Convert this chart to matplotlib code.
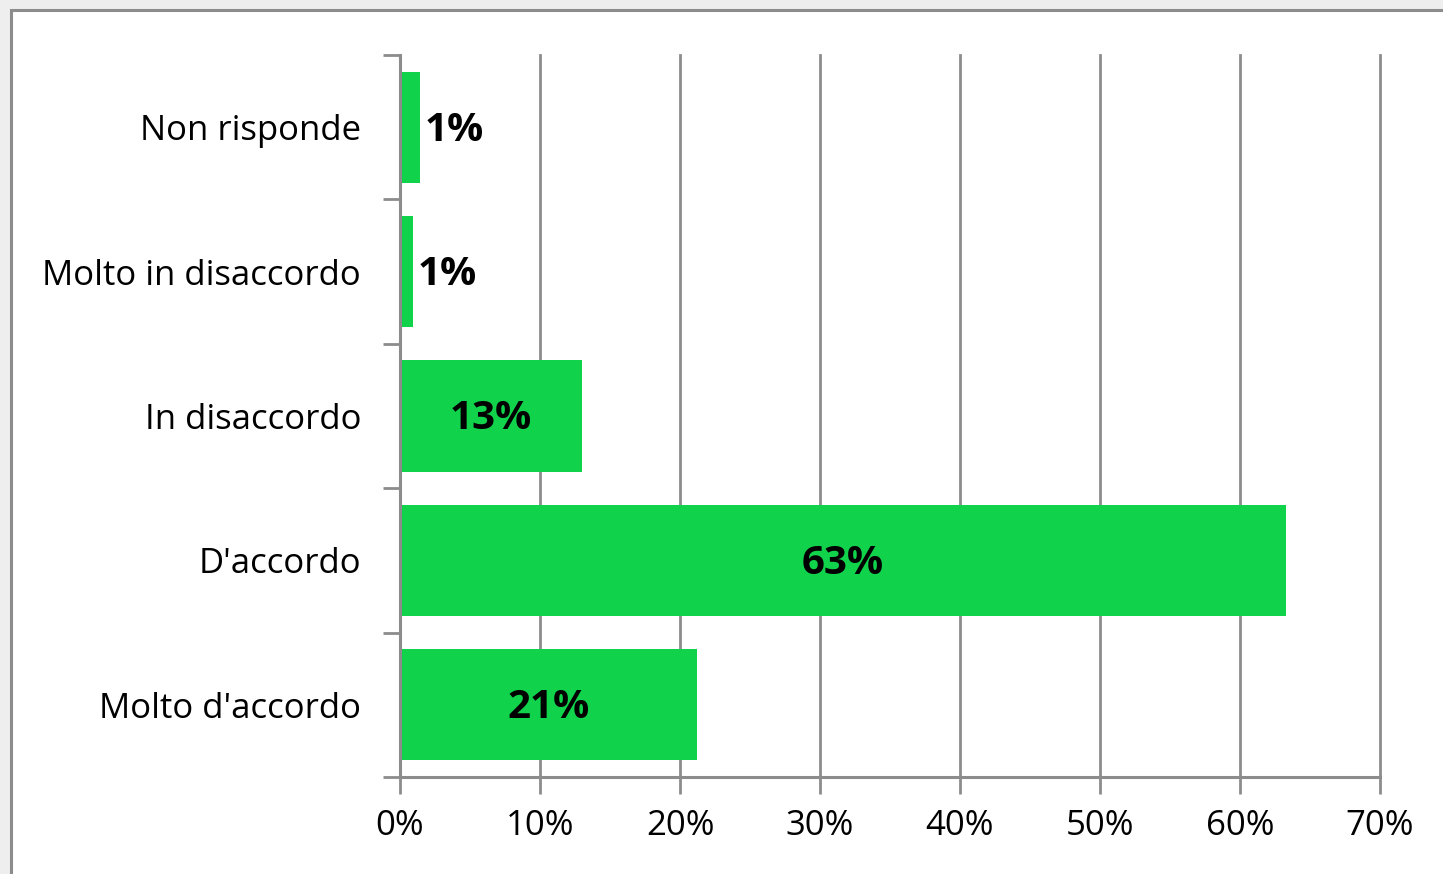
import numpy as np
import matplotlib.pyplot as plt
from matplotlib.patches import Rectangle
from matplotlib.ticker import FixedLocator, PercentFormatter

# Survey answers, bottom to top as drawn
categories = ["Molto d'accordo", "D'accordo", "In disaccordo",
              "Molto in disaccordo", "Non risponde"]
values = [21.2, 63.3, 13.0, 0.9, 1.4]
labels = ["21%", "63%", "13%", "1%", "1%"]
x_ticks = [0, 10, 20, 30, 40, 50, 60, 70]

W, H = 1443, 874
fig = plt.figure(figsize=(W / 100, H / 100), dpi=100)
fig.patch.set_facecolor("#eeeeee")

# white chart area with grey frame (Excel style), kept under the axes
frame = Rectangle((11, -20), W + 20, H - 10 + 20, transform=None,
                  facecolor="white", edgecolor="#8c8c8c", linewidth=2.2,
                  zorder=-5)
fig.patches.append(frame)

ax = fig.add_axes([400 / W, 1 - 777 / H, 980 / W, 722 / H])
ax.set_facecolor("none")

bar_color = "#10d24b"
grey = "#8c8c8c"
font = "Open Sans"

y = np.arange(len(categories))
ax.barh(y, values, height=0.77, color=bar_color, zorder=2)

ax.set_xlim(0, 70)
ax.set_ylim(-0.5, len(categories) - 0.5)
ax.set_xticks(x_ticks)
ax.xaxis.set_major_formatter(PercentFormatter(decimals=0))
ax.set_yticks(y)
ax.set_yticklabels(categories)
ax.yaxis.set_minor_locator(FixedLocator(np.arange(len(categories) + 1) - 0.5))

ax.tick_params(axis="y", which="major", length=0, pad=28)
ax.tick_params(axis="y", which="minor", length=12, width=2, color=grey)
ax.tick_params(axis="x", length=12, width=2, color=grey, pad=11)
for lab in ax.get_xticklabels() + ax.get_yticklabels():
    lab.set_fontfamily(font)
    lab.set_fontsize(25)

ax.grid(axis="x", color=grey, linewidth=2, zorder=1)
for gl in ax.get_xgridlines():
    gl.set_clip_on(False)
ax.set_axisbelow(True)
for side in ["top", "right"]:
    ax.spines[side].set_visible(False)
for side in ["left", "bottom"]:
    ax.spines[side].set_color(grey)
    ax.spines[side].set_linewidth(2.2)
    ax.spines[side].set_zorder(3)

# data labels: inside centred for wide bars, outside for tiny ones
for yi, v, txt in zip(y, values, labels):
    if v < 5:
        ax.text(v + 0.35, yi - 0.02, txt, ha="left", va="center",
                fontsize=29, fontweight="bold", family=font, zorder=4)
    else:
        ax.text(v / 2, yi - 0.02, txt, ha="center", va="center",
                fontsize=29, fontweight="bold", family=font, zorder=4)

fig.savefig("out.png", dpi=100, facecolor=fig.get_facecolor())
